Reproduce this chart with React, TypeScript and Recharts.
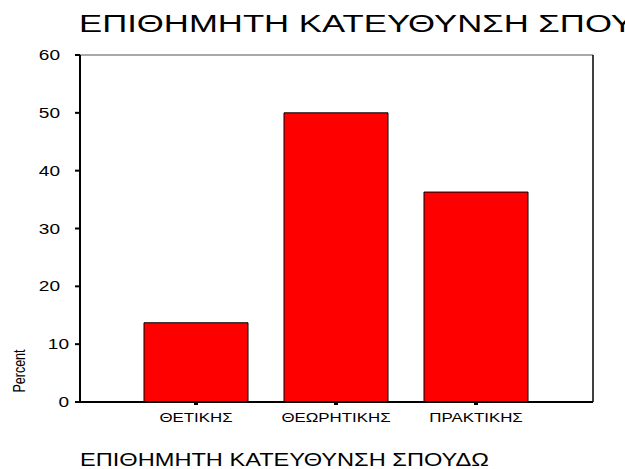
import { BarChart, Bar, XAxis, YAxis, ReferenceLine } from 'recharts';

const categories = ['ΘΕΤΙΚΗΣ', 'ΘΕΩΡΗΤΙΚΗΣ', 'ΠΡΑΚΤΙΚΗΣ'];
const percents = [13.7, 50.0, 36.3];
const yTicks = [0, 10, 20, 30, 40, 50, 60];
const chartTitle = 'ΕΠΙΘΗΜΗΤΗ ΚΑΤΕΥΘΥΝΣΗ ΣΠΟΥΔΩΝ';
const xLabel = 'ΕΠΙΘΗΜΗΤΗ ΚΑΤΕΥΘΥΝΣΗ ΣΠΟΥΔΩ';
const yLabel = 'Percent';

const data = categories.map((cat, i) => ({ cat, pct: percents[i] }));

const FONT = '"Liberation Sans", Arial, sans-serif';
// the source picture is stretched sideways, so every text gets a scaleX
const STRETCH = 1.36;

const XTick = ({ x, y, payload }: any) => (
  <g transform={`translate(${x},${y + 15}) scale(1.35,1)`}>
    <text textAnchor="middle" fontFamily={FONT} fontSize={12.5} fill="#000">
      {payload.value}
    </text>
  </g>
);

const YTick = ({ x, y, payload }: any) => {
  const rx = x - (payload.value >= 20 ? 13 : 4);
  return (
    <g transform={`translate(${rx},${y}) scale(${STRETCH},1)`}>
      <text textAnchor="end" dy="0.36em" fontFamily={FONT} fontSize={14} fill="#000">
        {payload.value}
      </text>
    </g>
  );
};

export default function App() {
  return (
    <div style={{ position: 'absolute', left: 0, top: 0, width: 625, height: 469, background: '#fff', overflow: 'hidden' }}>
      <BarChart width={625} height={469} data={data} margin={{ top: 55, right: 0, bottom: 0, left: 0 }}>
        <XAxis
          dataKey="cat"
          height={67}
          padding={{ left: 46, right: 47 }}
          axisLine={{ stroke: '#000', strokeWidth: 2 }}
          tickLine={{ stroke: '#000', strokeWidth: 4 }}
          tickSize={3}
          tick={<XTick />}
          interval={0}
        />
        <YAxis
          width={80}
          domain={[0, 60]}
          ticks={yTicks}
          axisLine={{ stroke: '#000', strokeWidth: 2 }}
          tickLine={{ stroke: '#000', strokeWidth: 2 }}
          tickSize={5}
          tick={<YTick />}
        />
        <YAxis
          yAxisId="frame"
          orientation="right"
          width={32}
          domain={[0, 60]}
          tick={false}
          tickLine={false}
          axisLine={{ stroke: '#000', strokeWidth: 1.5 }}
        />
        <ReferenceLine y={60} stroke="#555" strokeWidth={1} />
        <Bar dataKey="pct" fill="#ff0000" stroke="#000" strokeWidth={1} barSize={104} isAnimationActive={false} />
      </BarChart>

      <svg width={625} height={469} style={{ position: 'absolute', left: 0, top: 0, pointerEvents: 'none' }}>
        <g transform="translate(79,32) scale(1.51,1)">
          <text fontFamily={FONT} fontSize={23} fill="#000">{chartTitle}</text>
        </g>
        <g transform="translate(80,466) scale(1.35,1)">
          <text fontFamily={FONT} fontSize={17.5} fill="#000">{xLabel}</text>
        </g>
        <g transform={`translate(25,371) scale(${STRETCH},1) rotate(-90)`}>
          <text textAnchor="middle" fontFamily={FONT} fontSize={12.5} fill="#000">{yLabel}</text>
        </g>
      </svg>
    </div>
  );
}
